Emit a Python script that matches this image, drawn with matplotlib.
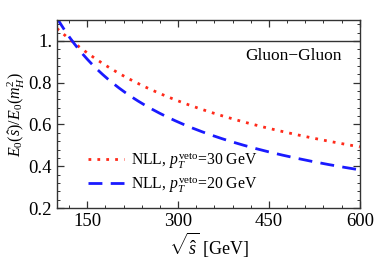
import matplotlib
matplotlib.use("Agg")
import matplotlib.pyplot as plt
from matplotlib.ticker import MultipleLocator, FixedLocator
import numpy as np

sqrt_s = [100, 120, 150, 175, 200, 250, 300, 350, 400, 450, 500, 550, 600]
nll_30 = [1.06, 1.011, 0.943, 0.89, 0.853, 0.773, 0.714, 0.66, 0.62, 0.58, 0.55, 0.52, 0.492]
nll_20 = [1.115, 1.01, 0.922, 0.84, 0.785, 0.677, 0.61, 0.557, 0.51, 0.468, 0.435, 0.408, 0.382]
xticks = [150, 300, 450, 600]
yticks = [0.2, 0.4, 0.6, 0.8, 1.0]
yticklabels = ["0.2", "0.4", "0.6", "0.8", "1."]

plt.rcParams['font.family'] = ['Liberation Serif', 'DejaVu Serif']
plt.rcParams['mathtext.fontset'] = 'custom'
plt.rcParams['mathtext.rm'] = 'Liberation Serif'
plt.rcParams['mathtext.it'] = 'Liberation Serif:italic'
plt.rcParams['mathtext.bf'] = 'Liberation Serif:bold'

fig = plt.figure(figsize=(3.82, 2.61), dpi=100)
ax = fig.add_axes([0.149, 0.203, 0.793, 0.720])

xs = np.linspace(100, 600, 400)
def smooth(x, y):
    c = np.polyfit(np.log(x), y, 4)
    return np.polyval(c, np.log(xs))

ax.axhline(1.0, color='#333333', lw=1.0)
ax.plot(xs, smooth(sqrt_s, nll_30), color='#ff2a1a', lw=2.0, ls=(0, (1, 2.2)),
        label=r'NLL, $p_T^{\rm veto}$=30 GeV')
ax.plot(xs, smooth(sqrt_s, nll_20), color='#1a1aff', lw=2.0, ls=(0, (5, 3)),
        label=r'NLL, $p_T^{\rm veto}$=20 GeV')

ax.set_xlim(100, 600)
ax.set_ylim(0.2, 1.1)
ax.xaxis.set_major_locator(FixedLocator(xticks))
ax.xaxis.set_minor_locator(MultipleLocator(30))
ax.yaxis.set_major_locator(FixedLocator(yticks))
ax.set_yticklabels(yticklabels)
ax.yaxis.set_minor_locator(MultipleLocator(0.04))
ax.tick_params(which='both', direction='in', top=True, right=True, labelsize=13.5, color='#333333')
ax.tick_params(which='major', length=5, width=0.9)
ax.tick_params(which='minor', length=2.5, width=0.7)
for s in ax.spines.values():
    s.set_color('#333333')
    s.set_linewidth(1.0)

ax.text(490, 0.927, 'Gluon\u2212Gluon', ha='center', va='center', fontsize=12.5)

ax.set_xlabel(r'$\sqrt{\hat{s}}$ [GeV]', fontsize=13, labelpad=1)
ax.set_ylabel(r'$E_0(\hat{s})/E_0(m_H^2)$', fontsize=11.5, labelpad=1)

leg = ax.legend(loc='lower left', bbox_to_anchor=(0.055, -0.005), frameon=False,
                fontsize=11.3, handlelength=2.3, handletextpad=0.45, labelspacing=0.22)

fig.savefig('out.png', dpi=100)
